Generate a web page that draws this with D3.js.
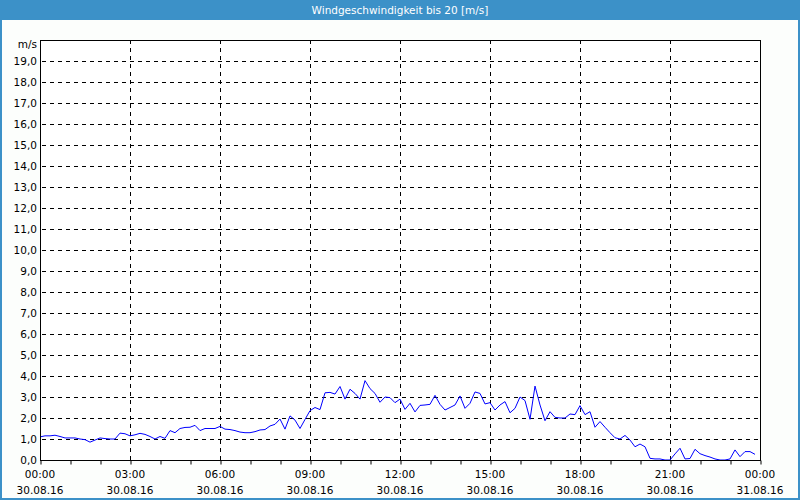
<!DOCTYPE html>
<html><head><meta charset="utf-8">
<script src="https://cdn.jsdelivr.net/npm/d3@7"></script>
<style>body{margin:0;background:#fff}svg{display:block}</style>
</head><body>
<svg id="c" width="800" height="500"></svg>
<script>
const title = "Windgeschwindigkeit bis 20 [m/s]";
const unit = "m/s";
const yTicks = [0,1,2,3,4,5,6,7,8,9,10,11,12,13,14,15,16,17,18,19];
const xTickHours = [0,3,6,9,12,15,18,21,24];
const xTimeLabels = ["00:00","03:00","06:00","09:00","12:00","15:00","18:00","21:00","00:00"];
const xDateLabels = ["30.08.16","30.08.16","30.08.16","30.08.16","30.08.16","30.08.16","30.08.16","30.08.16","31.08.16"];
const stepMinutes = 10;
const windSpeed = [
 1.1,1.15,1.15,1.18,1.12,1.05,1.05,1.05,1.0,0.97,
 0.85,0.95,1.05,1.02,1.0,1.0,1.28,1.25,1.15,1.2,
 1.27,1.22,1.12,1.0,1.12,1.03,1.4,1.3,1.5,1.55,
 1.56,1.65,1.4,1.5,1.5,1.5,1.6,1.47,1.45,1.4,
 1.33,1.3,1.3,1.35,1.43,1.45,1.62,1.7,1.95,1.47,
 2.1,1.9,1.5,1.93,2.35,2.5,2.4,3.2,3.22,3.14,
 3.5,2.9,3.37,3.17,2.9,3.78,3.4,3.17,2.75,3.0,
 2.97,2.73,2.9,2.41,2.7,2.29,2.6,2.62,2.65,3.08,
 2.65,2.38,2.5,2.62,3.05,2.46,2.7,3.24,3.17,2.67,
 2.73,2.38,2.62,2.78,2.25,2.46,3.0,2.83,1.94,3.52,
 2.62,1.87,2.3,2.03,2.0,2.0,2.19,2.16,2.59,2.16,
 2.3,1.56,1.83,1.56,1.3,1.06,1.0,1.17,0.95,0.63,
 0.76,0.63,0.08,0.05,0.05,0,0,0.29,0.56,0.05,
 0.07,0.51,0.3,0.21,0.14,0.05,0,0,0.05,0.48,
 0.16,0.4,0.4,0.27
];

const svg = d3.select("#c");
const W = 800, H = 500;
const L = 40, R = 760, T = 40, B = 460;
const font = "Tahoma, 'DejaVu Sans', Verdana, sans-serif";

svg.append("rect").attr("x",0).attr("y",0).attr("width",W).attr("height",H).attr("fill","#3c91c8");
svg.append("rect").attr("x",2).attr("y",20).attr("width",W-4).attr("height",H-22).attr("fill","#fcfefc");
svg.append("text").attr("x",W/2).attr("y",14).attr("text-anchor","middle")
  .attr("font-family",font).attr("font-size",10.5).attr("fill","#fff").text(title);

const x = d3.scaleLinear().domain([0,24]).range([L,R]);
const y = d3.scaleLinear().domain([0,20]).range([B,T]);

svg.append("rect").attr("x",L).attr("y",T).attr("width",R-L).attr("height",B-T).attr("fill","#fff");

const g = svg.append("g");
// horizontal grid
g.selectAll(".hg").data(yTicks.filter(d=>d>0)).join("line")
  .attr("x1",L).attr("x2",R).attr("y1",d=>Math.round(y(d))+0.5).attr("y2",d=>Math.round(y(d))+0.5)
  .attr("stroke","#000").attr("stroke-dasharray","4,4").attr("stroke-width",1)
  .attr("stroke-dashoffset",-2);
// vertical grid
g.selectAll(".vg").data(xTickHours.filter(d=>d>0&&d<24)).join("line")
  .attr("x1",d=>Math.round(x(d))+0.5).attr("x2",d=>Math.round(x(d))+0.5).attr("y1",T).attr("y2",B)
  .attr("stroke","#000").attr("stroke-dasharray","4,4").attr("stroke-width",1);

// data line
const line = d3.line().x((d,i)=>x(i*stepMinutes/60)).y(d=>y(d));
svg.append("path").datum(windSpeed).attr("d",line).attr("fill","none")
  .attr("stroke","#0000ff").attr("stroke-width",1);

// frame
svg.append("rect").attr("x",L+0.5).attr("y",T+0.5).attr("width",R-L).attr("height",B-T)
  .attr("fill","none").attr("stroke","#000").attr("stroke-width",1);

// x axis with hourly minor ticks
const xAxis = d3.axisBottom(x).tickValues(d3.range(0,25,1)).tickSize(4).tickFormat("");
const xa = svg.append("g").attr("transform",`translate(0.5,${B+0.5})`).call(xAxis);
xa.select(".domain").remove();
xa.selectAll("line").attr("stroke","#000");

svg.selectAll(".xt").data(xTickHours).join("text")
  .attr("x",d=>x(d)).attr("y",478).attr("text-anchor","middle")
  .attr("font-family",font).attr("font-size",10.5).attr("fill","#000")
  .text((d,i)=>xTimeLabels[i]);
svg.selectAll(".xd").data(xTickHours).join("text")
  .attr("x",d=>x(d)).attr("y",494).attr("text-anchor","middle")
  .attr("font-family",font).attr("font-size",10.5).attr("fill","#000")
  .text((d,i)=>xDateLabels[i]);

// y labels
const yAxis = d3.axisLeft(y).tickValues(yTicks).tickSize(0).tickPadding(3)
  .tickFormat(d=>d3.format(".1f")(d).replace(".",","));
const ya = svg.append("g").attr("transform",`translate(${L},0)`).call(yAxis);
ya.select(".domain").remove();
ya.selectAll("text").attr("font-family",font).attr("font-size",10.5).attr("fill","#000");

svg.append("text").attr("x",37).attr("y",48).attr("text-anchor","end")
  .attr("font-family",font).attr("font-size",10.5).attr("fill","#000").text(unit);
</script>
</body></html>
